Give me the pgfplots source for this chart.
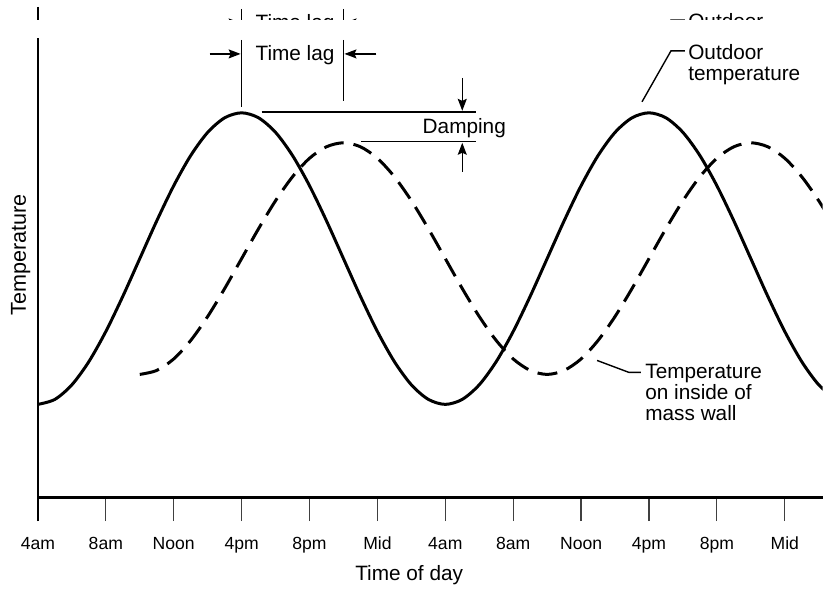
\documentclass[border=0pt]{standalone}
\usepackage{pgfplots}
\pgfplotsset{compat=1.18}
\usepackage{fontspec}
\setmainfont{Liberation Sans}
\usetikzlibrary{arrows.meta}

\newcommand{\annfont}{\fontsize{10.4}{10.6}\selectfont}
\tikzset{
  ann/.style={line width=0.7pt, black},
  annarr/.style={ann, -{Stealth[length=6pt,width=4.5pt,inset=1pt]}},
  lab/.style={font=\annfont, inner sep=0pt},
}
\newcommand{\annot}{%
  \draw[ann] (242,40) -- (242,107);
  \draw[ann] (344,40) -- (344,101);
  \draw[annarr] (210,54) -- (241,54);
  \draw[annarr] (377,54) -- (345,54);
  \node[lab, anchor=base] at (295.5,61) {Time lag};
  \draw[ann] (262,112) -- (477,112);
  \draw[ann] (362,142) -- (477,142);
  \draw[annarr] (463,78) -- (463,111);
  \draw[annarr] (463,172) -- (463,143);
  \node[lab, anchor=base] at (465,134) {Damping};
  \draw[ann] (643,102) -- (672,51) -- (686,51);
  \node[lab, anchor=base west, align=left] at (689,80.5) {Outdoor\\temperature};
  \draw[ann] (598,361) -- (630,373) -- (642,373);
  \node[lab, anchor=base west, align=left] at (646,421.5) {Temperature\\on inside of\\mass wall};
}

\begin{document}
\begin{tikzpicture}
\begin{scope}[x=0.5pt,y=-0.5pt]
  \useasboundingbox (0,0) rectangle (824,588);
\end{scope}

\begin{axis}[
  at={(19pt,-249pt)}, anchor=south west,
  scale only axis, width=393pt, height=230pt,
  xmin=0, xmax=46.235, ymin=0, ymax=460,
  axis x line=bottom, axis y line=left,
  axis line style={line width=1.3pt, -},
  xtick={0,4,...,44},
  xticklabels={4am,8am,Noon,4pm,8pm,Mid,4am,8am,Noon,4pm,8pm,Mid},
  ytick=\empty,
  tick align=outside, major tick length=12pt,
  x tick style={line width=0.6pt, black!75},
  extra x ticks={0}, extra x tick labels={},
  extra x tick style={x tick style={line width=1.3pt, black}},
  xticklabel style={font=\fontsize{8.8}{10}\selectfont, yshift=-4.5pt},
  xlabel={Time of day}, ylabel={Temperature},
  xlabel style={at={(axis description cs:0.473,-0.1804)}, anchor=base, font=\annfont},
  ylabel style={at={(axis description cs:-0.0153,0.528)}, anchor=base, font=\fontsize{10.8}{10.8}\selectfont},
]
\addplot[black, line width=1.5pt, smooth] coordinates {
(0,93) (1,98.0) (2,112.6) (3,135.8) (4,166) (5,201.2) (6,239) (7,276.8) (8,312) (9,342.2) (10,365.4) (11,380.0)
(12,385) (13,380.0) (14,365.4) (15,342.2) (16,312) (17,276.8) (18,239) (19,201.2) (20,166) (21,135.8) (22,112.6) (23,98.0)
(24,93) (25,98.0) (26,112.6) (27,135.8) (28,166) (29,201.2) (30,239) (31,276.8) (32,312) (33,342.2) (34,365.4) (35,380.0)
(36,385) (37,380.0) (38,365.4) (39,342.2) (40,312) (41,276.8) (42,239) (43,201.2) (44,166) (45,135.8) (46,112.6) (47,98.0)
};
\addplot[black, line width=1.5pt, smooth, dash pattern=on 10pt off 5pt] coordinates {
(6,123) (7,127.0) (8,138.5) (9,157.0) (10,181) (11,209.0) (12,239) (13,269.0) (14,297) (15,321.0) (16,339.5) (17,351.0)
(18,355) (19,351.0) (20,339.5) (21,321.0) (22,297) (23,269.0) (24,239) (25,209.0) (26,181) (27,157.0) (28,138.5) (29,127.0)
(30,123) (31,127.0) (32,138.5) (33,157.0) (34,181) (35,209.0) (36,239) (37,269.0) (38,297) (39,321.0) (40,339.5) (41,351.0)
(42,355) (43,351.0) (44,339.5) (45,321.0) (46,297) (47,269.0)
};
\end{axis}

\begin{scope}[x=0.5pt,y=-0.5pt]
  \annot
  % ghost strip at the top of the reference image
  \begin{scope}
    \clip (0,0) rectangle (824,20);
    \begin{scope}[yshift=15.5pt]
      \draw[line width=1.3pt] (38,38) -- (38,80);
      \annot
    \end{scope}
  \end{scope}
\end{scope}
\end{tikzpicture}
\end{document}
